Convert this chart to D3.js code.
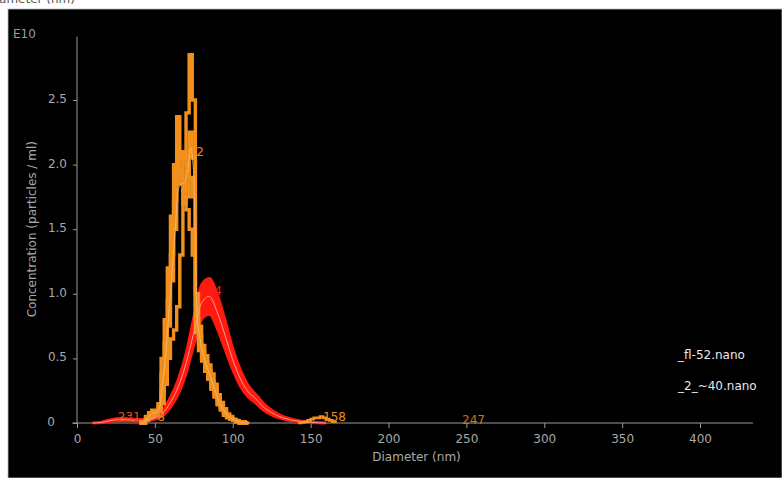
<!DOCTYPE html>
<html>
<head>
<meta charset="utf-8">
<script src="https://cdn.jsdelivr.net/npm/d3@7"></script>
<style>
  body { margin: 0; background: #fff; }
  text { font-family: "DejaVu Sans", sans-serif; }
</style>
</head>
<body>
<div id="chart"></div>
<script>
// x ticks and y ticks
const xTicks = [0, 50, 100, 150, 200, 250, 300, 350, 400];
const yTicks = [0, 0.5, 1.0, 1.5, 2.0, 2.5];

// red sample (smooth band: upper / mean / lower), diameter in nm
const redDiam  = [10, 15, 20, 25, 30, 35, 40, 45, 50, 55, 60, 65, 70, 75, 80, 85, 90, 95, 100, 105, 110, 115, 120, 125, 130, 135, 140, 145, 150, 155, 160];
const redUpper = [0, 0.006, 0.022, 0.035, 0.038, 0.03, 0.028, 0.035, 0.055, 0.1, 0.2, 0.34, 0.54, 0.82, 1.07, 1.12, 1.0, 0.8, 0.58, 0.41, 0.29, 0.22, 0.15, 0.1, 0.065, 0.04, 0.025, 0.014, 0.007, 0.003, 0];
const redMean  = [0, 0.003, 0.015, 0.025, 0.028, 0.022, 0.02, 0.025, 0.04, 0.075, 0.16, 0.28, 0.46, 0.70, 0.93, 0.98, 0.86, 0.68, 0.49, 0.34, 0.24, 0.185, 0.12, 0.08, 0.05, 0.03, 0.018, 0.01, 0.005, 0.002, 0];
const redLower = [0, 0.001, 0.008, 0.016, 0.018, 0.015, 0.013, 0.017, 0.028, 0.055, 0.12, 0.22, 0.38, 0.6, 0.8, 0.84, 0.73, 0.57, 0.41, 0.28, 0.2, 0.15, 0.095, 0.062, 0.038, 0.022, 0.012, 0.006, 0.003, 0.001, 0];

// orange sample (binned replicates, 2 nm bins)
const orDiam = [40, 42, 44, 46, 48, 50, 52, 54, 56, 58, 60, 62, 64, 66, 68, 70, 72, 74, 76, 78, 80, 82, 84, 86, 88, 90, 92, 94, 96, 98, 100, 102, 104, 106, 108, 110];
const orRepA = [0, 0, 0.05, 0.08, 0.1, 0.1, 0.15, 0.5, 0.8, 1.2, 1.6, 2.0, 2.37, 2.1, 1.85, 1.65, 1.5, 1.3, 0.8, 0.62, 0.5, 0.42, 0.34, 0.26, 0.2, 0.14, 0.1, 0.06, 0.04, 0.03, 0.02, 0.01, 0, 0, 0, 0];
const orRepB = [0, 0, 0.02, 0.04, 0.05, 0.07, 0.09, 0.15, 0.3, 0.5, 0.65, 0.72, 0.9, 1.3, 1.8, 2.4, 2.85, 2.5, 1.0, 0.75, 0.6, 0.52, 0.45, 0.38, 0.3, 0.22, 0.16, 0.11, 0.07, 0.05, 0.03, 0.02, 0.01, 0.01, 0, 0];
const orRepC = [0, 0, 0.03, 0.05, 0.07, 0.08, 0.1, 0.25, 0.45, 0.75, 1.1, 1.5, 1.85, 2.05, 2.1, 2.0, 1.9, 1.75, 0.7, 0.56, 0.48, 0.4, 0.34, 0.27, 0.21, 0.15, 0.11, 0.08, 0.05, 0.03, 0.02, 0.01, 0, 0, 0, 0];
const orRepD = [0, 0, 0.04, 0.07, 0.09, 0.09, 0.12, 0.38, 0.62, 0.95, 1.3, 1.72, 2.1, 1.95, 1.7, 1.75, 2.25, 2.05, 0.9, 0.68, 0.55, 0.47, 0.4, 0.32, 0.25, 0.18, 0.13, 0.09, 0.06, 0.04, 0.025, 0.015, 0.005, 0, 0, 0];
const orMean = [0, 0, 0.035, 0.06, 0.078, 0.085, 0.115, 0.32, 0.54, 0.85, 1.16, 1.49, 1.81, 1.85, 1.86, 1.95, 2.13, 1.9, 0.85, 0.65, 0.53, 0.45, 0.38, 0.31, 0.24, 0.17, 0.125, 0.085, 0.055, 0.038, 0.024, 0.014, 0.004, 0.002, 0, 0];
// small orange tail near 158 nm
const orTailDiam = [142, 144, 146, 148, 150, 152, 154, 156, 158, 160, 162, 164, 166];
const orTail     = [0, 0.005, 0.01, 0.02, 0.03, 0.04, 0.04, 0.05, 0.04, 0.03, 0.02, 0.01, 0];

// peak labels (text, diameter, value, colour)
const peakText  = ["2", "4", "231", "8", "158", "247"];
const peakDiam  = [81.5, 93, 26.2, 56.5, 158, 247.2];
const peakValue = [2.07, 0.99, 0.015, 0.015, 0.015, -0.008];
const peakColor = ["#f08a1c", "#ff2020", "#e8501a", "#f08a1c", "#f08a1c", "#d0700f"];
const peakAnchor = ["end", "end", "start", "end", "start", "start"];

const legendNames = ["_fl-52.nano", "_2_~40.nano"];

const W = 782, H = 478;
const svg = d3.select("#chart").append("svg")
    .attr("width", W)
    .attr("height", H);

// cut off title at top
svg.append("text")
    .attr("x", 75).attr("y", 3)
    .attr("text-anchor", "end")
    .style("font-size", "12px")
    .style("fill", "#555")
    .text("Diameter (nm)");

// black plot panel
svg.append("rect")
    .attr("x", 8).attr("y", 9)
    .attr("width", W - 8).attr("height", H - 9)
    .attr("fill", "#000")
    .attr("stroke", "#bbb")
    .attr("stroke-width", 0.8);

const x = d3.scaleLinear().domain([0, 400]).range([77, 700]);
const y = d3.scaleLinear().domain([0, 3]).range([423, 35.4]);

const axisColor = "#9a9a9a";
const labelColor = "#a8a8a8";

// X axis
const gx = svg.append("g")
    .attr("transform", `translate(0,${y(0)})`)
    .call(d3.axisBottom(x).tickValues(xTicks).tickSize(5).tickPadding(6).tickFormat(d3.format("d")));
gx.select(".domain").remove();
gx.selectAll("line").style("stroke", axisColor);
gx.selectAll("text").style("fill", labelColor).style("font-size", "12px");
svg.append("line")
    .attr("x1", x(-3)).attr("x2", x(434))
    .attr("y1", y(0)).attr("y2", y(0))
    .style("stroke", axisColor);

// Y axis
const gy = svg.append("g")
    .attr("transform", `translate(${x(0)},0)`)
    .call(d3.axisLeft(y).tickValues(yTicks).tickSize(4).tickPadding(6)
        .tickFormat(d => d === 0 ? "0" : d3.format(".1f")(d)));
gy.select(".domain").remove();
gy.selectAll("line").style("stroke", axisColor);
gy.selectAll("text").style("fill", labelColor).style("font-size", "12px")
    .attr("dy", "0.2em");
gy.selectAll(".tick").filter(d => d === 0).select("text").attr("x", -22);
svg.append("line")
    .attr("x1", x(0)).attr("x2", x(0))
    .attr("y1", y(0)).attr("y2", y(2.99))
    .style("stroke", axisColor);

// axis titles
svg.append("text")
    .attr("x", 13).attr("y", 38)
    .style("font-size", "12px")
    .style("fill", "#9a9a9a")
    .text("E10");

svg.append("text")
    .attr("transform", `translate(36,${y(1.5)}) rotate(-90)`)
    .attr("text-anchor", "middle")
    .style("font-size", "12px")
    .style("fill", labelColor)
    .text("Concentration (particles / ml)");

svg.append("text")
    .attr("x", x(218)).attr("y", 461)
    .attr("text-anchor", "middle")
    .style("font-size", "12px")
    .style("fill", labelColor)
    .text("Diameter (nm)");

// red band
const redRows = redDiam.map((d, i) => ({ d: d, up: redUpper[i], m: redMean[i], lo: redLower[i] }));
const redArea = d3.area()
    .x(r => x(r.d)).y0(r => y(r.lo)).y1(r => y(r.up))
    .curve(d3.curveMonotoneX);
svg.append("path").datum(redRows)
    .attr("d", redArea)
    .attr("fill", "#ff1a10");
["up", "lo"].forEach(k => {
    svg.append("path").datum(redRows)
        .attr("d", d3.line().x(r => x(r.d)).y(r => y(r[k])).curve(d3.curveMonotoneX))
        .attr("fill", "none")
        .attr("stroke", "#ff1a10")
        .attr("stroke-width", 2.6);
});

// orange replicates
const stepLine = d3.line().x(r => x(r.d)).y(r => y(r.v)).curve(d3.curveStepAfter);
[orRepA, orRepD, orRepC, orRepB].forEach(rep => {
    const rows = orDiam.map((d, i) => ({ d: d, v: rep[i] }));
    svg.append("path").datum(rows)
        .attr("d", stepLine)
        .attr("fill", "none")
        .attr("stroke", "#f2901c")
        .attr("stroke-width", 3.4);
});
svg.append("path")
    .datum(orTailDiam.map((d, i) => ({ d: d, v: orTail[i] })))
    .attr("d", stepLine)
    .attr("fill", "none")
    .attr("stroke", "#f2901c")
    .attr("stroke-width", 2.6);

// mean lines
svg.append("path")
    .datum(redRows)
    .attr("d", d3.line().x(r => x(r.d)).y(r => y(r.m)).curve(d3.curveMonotoneX))
    .attr("fill", "none")
    .attr("stroke", "#ff9a90")
    .attr("stroke-width", 1);
svg.append("path")
    .datum(orDiam.map((d, i) => ({ d: d + 1, v: orMean[i] })))
    .attr("d", d3.line().x(r => x(r.d)).y(r => y(r.v)).curve(d3.curveMonotoneX))
    .attr("fill", "none")
    .attr("stroke", "#f6bd80")
    .attr("stroke-width", 0.8);

// peak labels
peakText.forEach((t, i) => {
    svg.append("text")
        .attr("x", x(peakDiam[i])).attr("y", y(peakValue[i]))
        .attr("text-anchor", peakAnchor[i])
        .style("font-size", "12px")
        .style("fill", peakColor[i])
        .text(t);
});

// legend
legendNames.forEach((n, i) => {
    svg.append("text")
        .attr("x", 678).attr("y", 359 + i * 31)
        .style("font-size", "12px")
        .style("fill", "#e8e8e8")
        .text(n);
});
</script>
</body>
</html>
